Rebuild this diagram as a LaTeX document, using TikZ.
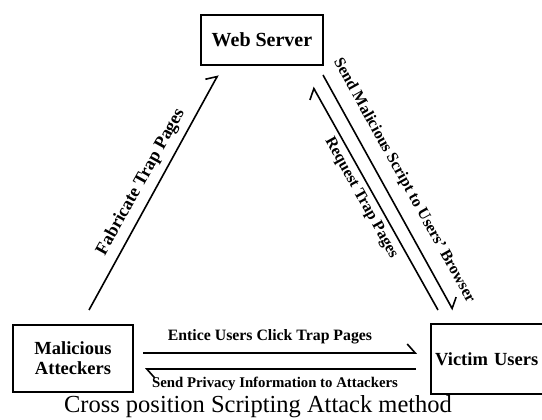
\documentclass[tikz,border=0pt]{standalone}
\usepackage{fontspec}
\setmainfont{Liberation Serif}
\usetikzlibrary{arrows.meta}

\begin{document}
\begin{tikzpicture}
[every node/.style={inner sep=0pt},
 box/.style={rectangle, draw=black, line width=2.4pt, fill=white, font=\fontsize{18.5}{20}\selectfont\bfseries},
 msg/.style={line width=1.6pt, color=black, -{Straight Barb[harpoon, length=8pt, width=18pt, line width=1.6pt]}},
 lbl/.style={font=\fontsize{15}{17}\selectfont\bfseries},
 slant/.style={font=\fontsize{16}{18}\selectfont\bfseries}]
\useasboundingbox (0pt,0pt) rectangle (542pt,-420pt);
\node (web) [box, font=\fontsize{20}{22}\selectfont\bfseries, minimum width=122pt, minimum height=50pt] at (262pt, -40pt) {Web Server};
\node (mal) [box, minimum width=120pt, minimum height=67pt, align=center] at (73pt, -358.5pt) {Malicious\\Atteckers};
\node (vic) [box, anchor=north west, minimum height=70pt, text width=130pt, inner xsep=4pt, align=left] at (430pt, -323pt) {Victim Users};
\coordinate (fab1) at (89pt, -310pt);
\coordinate (fab2) at (218pt, -75pt);
\coordinate (scr1) at (323pt, -75pt);
\coordinate (scr2) at (453pt, -310pt);
\coordinate (req1) at (438pt, -310pt);
\coordinate (req2) at (313pt, -87pt);
\coordinate (ent1) at (143pt, -353pt);
\coordinate (ent2) at (417pt, -353pt);
\coordinate (prv1) at (416pt, -369pt);
\coordinate (prv2) at (145pt, -369pt);
\draw [msg] (fab1) to (fab2);
\draw [msg] (scr1) to (scr2);
\draw [msg] (req1) to (req2);
\draw [msg] (ent1) to (ent2);
\draw [msg] (prv1) to (prv2);
\node (fabtxt) at (141pt, -182pt) [slant, font=\fontsize{18}{20}\selectfont\bfseries, rotate=61] {Fabricate Trap Pages};
\node (scrtxt) at (404pt, -181pt) [slant, rotate=299] {Send Malicious Script to Users' Browser};
\node (reqtxt) at (361pt, -198pt) [slant, rotate=299] {Request Trap Pages};
\node (enttxt) at (270pt, -337pt) [lbl, font=\fontsize{15.8}{17}\selectfont\bfseries] {Entice Users Click Trap Pages};
\node (prvtxt) at (275pt, -384pt) [lbl, font=\fontsize{14.8}{17}\selectfont\bfseries] {Send Privacy Information to Attackers};
\node (caption) at (258pt, -412pt) [anchor=base, font=\fontsize{24.5}{28}\selectfont] {Cross position Scripting Attack method};
\end{tikzpicture}
\end{document}
